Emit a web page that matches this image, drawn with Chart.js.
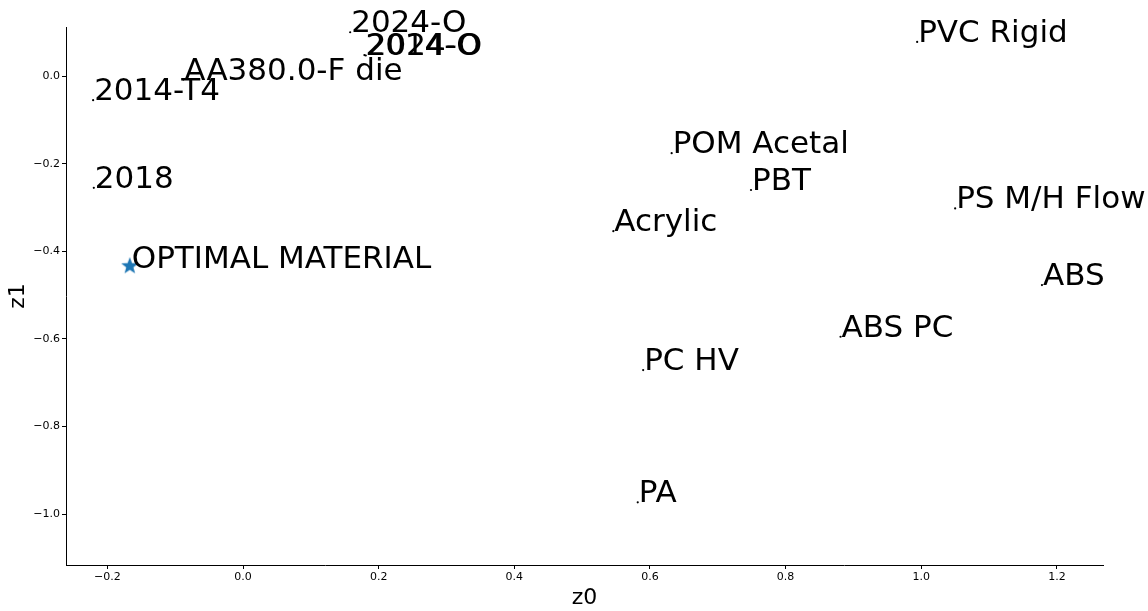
<!DOCTYPE html>
<html>
<head>
<meta charset="utf-8">
<script src="https://cdn.jsdelivr.net/npm/chart.js@4.4.1/dist/chart.umd.min.js"></script>
<style>
  html, body { margin: 0; padding: 0; background: #fff; }
  #wrap { width: 1148px; height: 611px; position: relative; }
</style>
</head>
<body>
<div id="wrap"><canvas id="c"></canvas></div>
<script>
// Materials projected onto the latent plane (z0, z1)
const materials = ['2024-O', '2014-O', '2024-O', 'AA380.0-F die', '2014-T4', '2018',
  'POM Acetal', 'PBT', 'Acrylic', 'PVC Rigid', 'PS M/H Flow', 'ABS', 'ABS PC', 'PC HV', 'PA'];
const z0 = [0.158, 0.179, 0.181, -0.088, -0.221, -0.220,
  0.632, 0.749, 0.546, 0.994, 1.050, 1.178, 0.881, 0.590, 0.582];
const z1 = [0.100, 0.048, 0.047, -0.008, -0.055, -0.255,
  -0.176, -0.260, -0.354, 0.078, -0.302, -0.477, -0.595, -0.671, -0.973];

// Optimum found in the latent space
const optimalLabel = ['OPTIMAL MATERIAL'];
const optimalZ0 = [-0.167];
const optimalZ1 = [-0.432];

// Axis ticks
const xTicks = [-0.2, 0.0, 0.2, 0.4, 0.6, 0.8, 1.0, 1.2];
const yTicks = [0.0, -0.2, -0.4, -0.6, -0.8, -1.0];

const FONT = '"DejaVu Sans", "Liberation Sans", sans-serif';

// filled five-point star used as the marker of the optimum
function makeStar(size, color) {
  const cv = document.createElement('canvas');
  cv.width = size; cv.height = size;
  const g = cv.getContext('2d');
  const cx = size / 2, cy = size / 2 + 0.8;
  const R = size / 2, r = R * 0.42;
  g.beginPath();
  for (let i = 0; i < 10; i++) {
    const rad = i % 2 === 0 ? R : r;
    const a = -Math.PI / 2 + i * Math.PI / 5;
    const px = cx + rad * Math.cos(a), py = cy + rad * Math.sin(a);
    if (i === 0) g.moveTo(px, py); else g.lineTo(px, py);
  }
  g.closePath();
  g.fillStyle = color;
  g.fill();
  return cv;
}

const fmt = v => (Math.abs(v) < 1e-9 ? 0 : v).toFixed(1).replace('-', '\u2212');

// writes each point's name to the right of its marker
const pointNames = {
  id: 'pointNames',
  afterDatasetsDraw(chart) {
    const ctx = chart.ctx;
    ctx.save();
    ctx.font = '31px ' + FONT;
    ctx.fillStyle = '#000';
    ctx.textAlign = 'left';
    ctx.textBaseline = 'alphabetic';
    chart.data.datasets.forEach((ds, di) => {
      const meta = chart.getDatasetMeta(di);
      meta.data.forEach((el, i) => {
        const off = ds.labelOffset || [0, 0];
        ctx.fillText(ds.names[i], el.x + off[0], el.y + off[1]);
      });
    });
    ctx.restore();
  }
};

new Chart(document.getElementById('c'), {
  type: 'scatter',
  data: {
    datasets: [
      {
        names: materials,
        data: z0.map((x, i) => ({ x, y: z1[i] })),
        pointRadius: 1.1,
        pointBackgroundColor: '#000',
        pointBorderWidth: 0,
        labelOffset: [1, 0]
      },
      {
        names: optimalLabel,
        data: optimalZ0.map((x, i) => ({ x, y: optimalZ1[i] })),
        pointStyle: makeStar(18, '#1f77b4'),
        labelOffset: [2, 3]
      }
    ]
  },
  options: {
    responsive: true,
    maintainAspectRatio: false,
    devicePixelRatio: 1,
    animation: false,
    layout: { padding: { top: 27, right: 45, left: 0, bottom: 0 } },
    plugins: { legend: { display: false }, tooltip: { enabled: false } },
    scales: {
      x: {
        type: 'linear',
        min: -0.261,
        max: 1.268,
        afterFit(s) { s.height = 46; },
        afterBuildTicks(s) { s.ticks = xTicks.map(v => ({ value: v })); },
        grid: { drawOnChartArea: false, drawTicks: true, tickLength: 4, color: '#000', tickWidth: 1 },
        border: { display: true, color: '#000', width: 1 },
        ticks: { color: '#000', font: { family: FONT, size: 11 }, padding: 2, maxRotation: 0, callback: v => fmt(v) },
        title: { display: true, text: 'z0', color: '#000', font: { family: FONT, size: 22 }, padding: { top: 0, bottom: 0 } }
      },
      y: {
        type: 'linear',
        min: -1.116,
        max: 0.112,
        afterFit(s) { s.width = 66; },
        afterBuildTicks(s) { s.ticks = yTicks.map(v => ({ value: v })); },
        grid: { drawOnChartArea: false, drawTicks: true, tickLength: 4, color: '#000', tickWidth: 1 },
        border: { display: true, color: '#000', width: 1 },
        ticks: { color: '#000', font: { family: FONT, size: 11 }, padding: 2, callback: v => fmt(v) },
        title: { display: true, text: 'z1', color: '#000', font: { family: FONT, size: 22 }, padding: { top: 5, bottom: 0 } }
      }
    }
  },
  plugins: [pointNames]
});
</script>
</body>
</html>
